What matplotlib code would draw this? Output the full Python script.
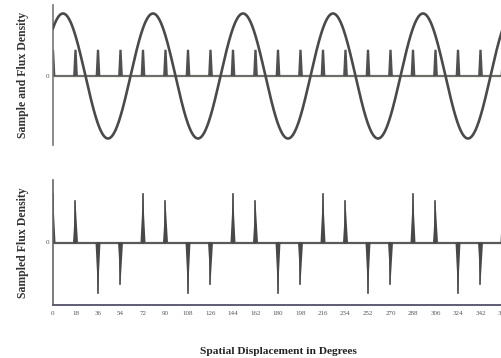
import numpy as np
import matplotlib
matplotlib.use("Agg")
import matplotlib.pyplot as plt

# ---- data ----
x_ticks = [0, 18, 36, 54, 72, 90, 108, 126, 144, 162, 180, 198, 216, 234,
           252, 270, 288, 306, 324, 342, 360]
sample_positions = [0, 18, 36, 54, 72, 90, 108, 126, 144, 162, 180, 198, 216,
                    234, 252, 270, 288, 306, 324, 342, 360]
sample_pulse_height = [0.42] * len(sample_positions)
sampled_values = [0.78, 0.66, -0.80, -0.67, 0.78, 0.66, -0.80, -0.67,
                  0.78, 0.66, -0.80, -0.67, 0.78, 0.66, -0.80, -0.67,
                  0.78, 0.66, -0.80, -0.67, 0.78]
# flux density wave parameters
wave_amplitude = 1.0
wave_length_deg = 72.0
wave_phase_deg = 50.0

W, H = 502, 358
fig = plt.figure(figsize=(W / 100, H / 100), dpi=100)
fig.patch.set_facecolor("white")

left_px, right_px = 53, 515.5
xmax = 370
ax1 = fig.add_axes([left_px / W, 1 - 145 / H, (right_px - left_px) / W, 140 / H])
ax2 = fig.add_axes([left_px / W, 1 - 305 / H, (right_px - left_px) / W, 125 / H])

line_col = "#4a4a4a"
serif = ["Liberation Serif", "DejaVu Serif"]

# ---- top panel ----
xs = np.linspace(0, xmax, 2000)
wave = wave_amplitude * np.sin(np.deg2rad(wave_phase_deg + 360.0 * xs / wave_length_deg))
ax1.axhline(0, color="#6e6e66", lw=1.6, zorder=1)
for xp, hgt in zip(sample_positions, sample_pulse_height):
    ax1.fill([xp - 1.9, xp - 0.9, xp + 0.9, xp + 1.9], [0, hgt, hgt, 0],
             color="#505050", lw=0, zorder=2)
ax1.plot(xs, wave, color=line_col, lw=1.9, zorder=3)
ax1.set_xlim(0, xmax)
ax1.set_ylim(-1.104, 1.136)
for s in ["top", "right", "bottom"]:
    ax1.spines[s].set_visible(False)
ax1.spines["left"].set_color("#777777")
ax1.spines["left"].set_linewidth(1.2)
ax1.set_xticks([])
ax1.set_yticks([0])
ax1.set_yticklabels(["0"], fontsize=5, family=serif, color="#555555")
ax1.tick_params(axis="y", length=0, pad=3)
ax1.set_ylabel("Sample and Flux Density", fontsize=8.5, family=serif,
               fontweight="bold", color="#333333", labelpad=12)

# ---- bottom panel ----
ax2.axhline(0, color="#5a5a5a", lw=1.6, zorder=1)
w = 2.0
for xp, v in zip(sample_positions, sampled_values):
    ax2.fill([xp - w, xp, xp + w], [0, v, 0], color="#484848", lw=0, zorder=2)
    ax2.plot([xp, xp], [0, v], color="#484848", lw=1.2, zorder=2)
ax2.set_xlim(0, xmax)
ax2.set_ylim(-1.0, 1.0)
for s in ["top", "right"]:
    ax2.spines[s].set_visible(False)
ax2.spines["left"].set_color("#666666")
ax2.spines["left"].set_linewidth(1.2)
ax2.spines["bottom"].set_color("#5c5c78")
ax2.spines["bottom"].set_linewidth(1.4)
ax2.set_xticks(x_ticks)
ax2.set_xticklabels([str(t) for t in x_ticks], fontsize=5, family=serif,
                    color="#555555")
ax2.tick_params(axis="x", length=0, pad=4)
ax2.set_yticks([0])
ax2.set_yticklabels(["0"], fontsize=5, family=serif, color="#555555")
ax2.tick_params(axis="y", length=0, pad=3)
ax2.set_ylabel("Sampled Flux Density", fontsize=8.5, family=serif,
               fontweight="bold", color="#333333", labelpad=12)

fig.text(278 / W, 1 - 352 / H, "Spatial Displacement in Degrees", fontsize=8.2,
         family=serif, fontweight="bold", color="#222222",
         ha="center", va="center")

fig.savefig("out.png", dpi=100)
